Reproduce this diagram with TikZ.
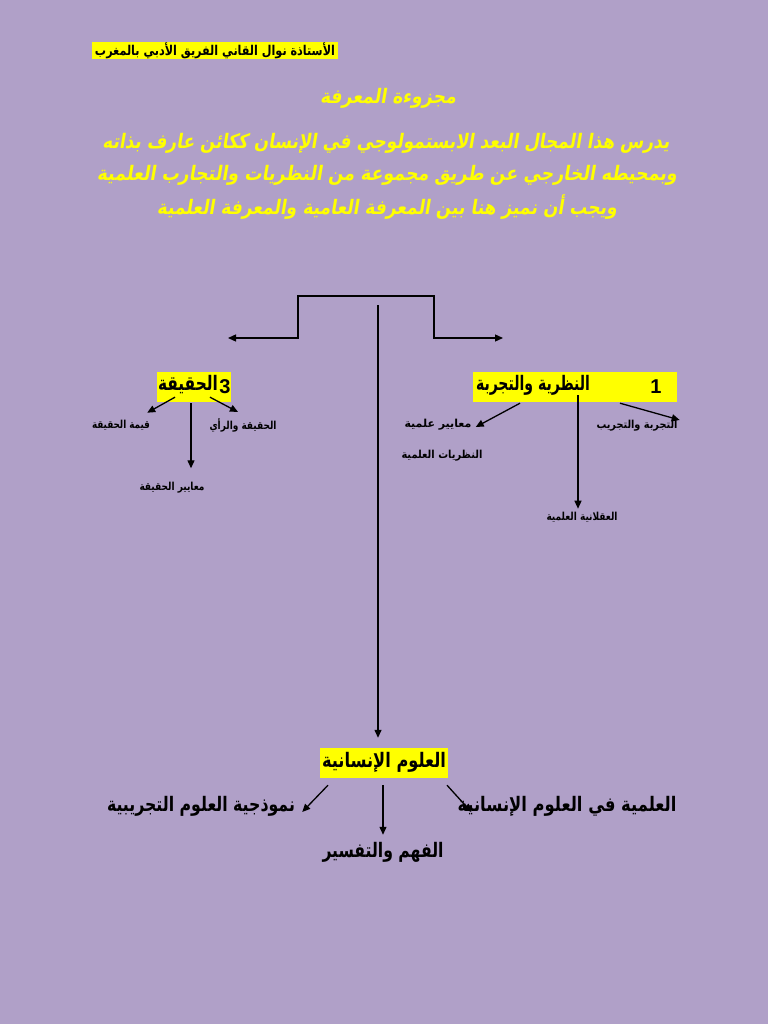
\documentclass[tikz,border=0pt]{standalone}
\usepackage{fontspec}
\usetikzlibrary{arrows.meta,calc}
\TeXXeTstate=1
\newfontfamily\arbold[Script=Arabic]{DejaVu Sans Bold}
\newfontfamily\arslant[Script=Arabic,FakeSlant=0.2]{DejaVu Sans Bold}
\newfontfamily\latb{Liberation Sans Bold}
\definecolor{bgc}{RGB}{176,160,200}
\definecolor{hl}{RGB}{255,255,0}
\newcommand{\FW}[2]{\resizebox{#1}{\height}{#2}}
\begin{document}
\begin{tikzpicture}[x=1pt,y=-1pt,
  small/.style={font=\arbold\fontsize{11}{13}\selectfont, inner sep=0pt},
  big/.style={font=\arbold\fontsize{20}{23}\selectfont, inner sep=0pt},
  hlbox/.style={fill=hl, inner sep=0pt},
  num/.style={font=\latb\fontsize{20}{22}\selectfont, inner sep=0pt},
  yel/.style={text=hl, font=\arslant\fontsize{20}{24}\selectfont, inner sep=0pt},
  arr/.style={-{Triangle[length=8pt,width=7pt]}, line width=1.3pt},
  darr/.style={{Triangle[length=8pt,width=7pt]}-{Triangle[length=8pt,width=7pt]}, line width=1.3pt}]
\fill[bgc] (0,0) rectangle (768,1024);
\useasboundingbox (0,0) rectangle (768,1024);
% header
\node[hlbox, minimum width=246pt, minimum height=17pt, font=\arbold\fontsize{13.5}{15}\selectfont] (hdr) at (215,51) {\FW{240pt}{\beginR الأستاذة نوال القاني الفريق الأدبي بالمغرب\endR}};
% title and paragraph
\node[yel] (title) at (388,98) {\FW{136pt}{\beginR مجزوءة المعرفة\endR}};
\node[yel] (l1) at (386,143) {\FW{567pt}{\beginR يدرس هذا المجال البعد الابستمولوجي في الإنسان ككائن عارف بذاته\endR}};
\node[yel] (l2) at (387,175) {\FW{580pt}{\beginR وبمحيطه الخارجي عن طريق مجموعة من النظريات والتجارب العلمية\endR}};
\node[yel] (l3) at (387,207) {\FW{460pt}{\beginR ويجب أن نميز هنا بين المعرفة العامية والمعرفة العلمية\endR}};
% bracket
\coordinate (tl) at (298,296);
\coordinate (tr) at (434,296);
\coordinate (ll) at (298,338);
\coordinate (le) at (228,338);
\coordinate (rl) at (434,338);
\coordinate (re) at (503,338);
\coordinate (vtop) at (378,305);
\draw[darr] (le) -- (ll) -- (tl) -- (tr) -- (rl) -- (re);
% box 1
\node[hlbox, minimum width=204pt, minimum height=30pt] (th) at (575,387) {};
\node[big] (thtxt) at (533,385) {\FW{114pt}{\beginR النظرية والتجربة\endR}};
\node[num] (thnum) at (656,387) {1};
% box 3
\node[hlbox, minimum width=74pt, minimum height=30pt] (hq) at (194,387) {};
\node[big] (hqtxt) at (188,385) {\FW{60pt}{\beginR الحقيقة\endR}};
\node[num] (hqnum) at (225,387) {3};
% human sciences box
\node[hlbox, minimum width=128pt, minimum height=30pt] (hum) at (384,763) {};
\node[big] (humtxt) at (384,762) {\FW{124pt}{\beginR العلوم الإنسانية\endR}};
% small labels
\node[small] (mea) at (438,425) {\FW{67pt}{\beginR معايير علمية\endR}};
\node[small] (nat) at (442,456) {\FW{81pt}{\beginR النظريات العلمية\endR}};
\node[small] (aql) at (582,517) {\FW{71pt}{\beginR العقلانية العلمية\endR}};
\node[small] (tjr) at (637,426) {\FW{81pt}{\beginR التجربة والتجريب\endR}};
\node[small] (qim) at (121,425) {\FW{58pt}{\beginR قيمة الحقيقة\endR}};
\node[small] (mah) at (172,488) {\FW{65pt}{\beginR معايير الحقيقة\endR}};
\node[small] (raa) at (243,425) {\FW{67pt}{\beginR الحقيقة والرأي\endR}};
% big labels
\node[big] (nam) at (201,806) {\FW{188pt}{\beginR نموذجية العلوم التجريبية\endR}};
\node[big] (fah) at (383,852) {\FW{121pt}{\beginR الفهم والتفسير\endR}};
\node[big] (ilm) at (567,806) {\FW{219pt}{\beginR العلمية في العلوم الإنسانية\endR}};
% connectors
\draw[arr] (vtop) -- ($(hum.north)+(-6,-10)$);
\draw[arr] ($(th.south)+(-55,1)$) -- ($(mea.east)+(4,2)$);
\draw[arr] ($(th.south)+(3,-7)$) -- ($(aql.north)+(-4,-3)$);
\draw[arr] ($(th.south)+(45,1)$) -- ($(tjr.east)+(2,-6)$);
\draw[arr] ($(hq.south)+(-19,-5)$) -- ($(qim.north east)+(-3,-7)$);
\draw[arr] ($(hq.south)+(-3,1)$) -- ($(mah.north)+(19,-14)$);
\draw[arr] ($(hq.south)+(16,-5)$) -- ($(raa.north)+(-5,-6)$);
\draw[arr] ($(hum.south)+(-56,7)$) -- ($(nam.east)+(7,6)$);
\draw[arr] ($(hum.south)+(-1,7)$) -- ($(fah.north)+(0,-7)$);
\draw[arr] ($(hum.south)+(63,7)$) -- ($(ilm.west)+(14,6)$);
\end{tikzpicture}
\end{document}
